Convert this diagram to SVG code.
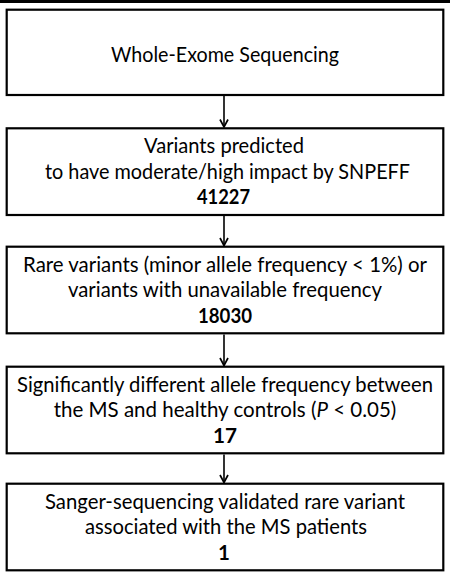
<svg xmlns="http://www.w3.org/2000/svg" width="450" height="577" viewBox="0 0 450 577">
<defs>
<style>
.box{fill:#fff;stroke:#000;stroke-width:2.2}
.t{font-family:Lato,"Liberation Sans",sans-serif;font-size:20.5px;fill:#000;text-anchor:middle}
.b{font-weight:bold}
.c{stroke:#000;stroke-width:1.6;fill:none}
</style>
<marker id="ah" markerWidth="10" markerHeight="10" refX="8.5" refY="5" orient="auto" markerUnits="userSpaceOnUse" viewBox="0 0 10 10">
<path d="M1,1 L8.5,5 L1,9" fill="none" stroke="#000" stroke-width="1.7"/>
</marker>
</defs>
<rect x="0" y="0" width="450" height="3" fill="#000"/>
<g id="connectors">
<line class="c" x1="224" y1="96" x2="224" y2="127" marker-end="url(#ah)"/>
<line class="c" x1="224" y1="216" x2="224" y2="245.5" marker-end="url(#ah)"/>
<line class="c" x1="224" y1="334.5" x2="224" y2="365.5" marker-end="url(#ah)"/>
<line class="c" x1="224" y1="454.5" x2="224" y2="482.5" marker-end="url(#ah)"/>
</g>
<g id="n1">
<rect class="box" x="6.7" y="9.7" width="436.6" height="85.3"/>
<text class="t" x="225" y="61.7" textLength="228" lengthAdjust="spacingAndGlyphs">Whole-Exome Sequencing</text>
</g>
<g id="n2">
<rect class="box" x="6.7" y="128.3" width="436.6" height="86.7"/>
<text class="t" x="224" y="153" textLength="160" lengthAdjust="spacingAndGlyphs">Variants predicted</text>
<text class="t" x="227.5" y="178.5" textLength="365" lengthAdjust="spacingAndGlyphs">to have moderate/high impact by SNPEFF</text>
<text class="t b" x="223.5" y="204" textLength="53" lengthAdjust="spacingAndGlyphs">41227</text>
</g>
<g id="n3">
<rect class="box" x="6.7" y="246.7" width="436.6" height="86.6"/>
<text class="t" x="225" y="271.5" textLength="404" lengthAdjust="spacingAndGlyphs">Rare variants (minor allele frequency &lt; 1%) or</text>
<text class="t" x="225" y="297" textLength="314" lengthAdjust="spacingAndGlyphs">variants with unavailable frequency</text>
<text class="t b" x="225" y="322.5" textLength="54" lengthAdjust="spacingAndGlyphs">18030</text>
</g>
<g id="n4">
<rect class="box" x="6.7" y="366.7" width="436.6" height="86.6"/>
<text class="t" x="225" y="391.5" textLength="416" lengthAdjust="spacingAndGlyphs">Significantly different allele frequency between</text>
<text class="t" x="225" y="417">the MS and healthy controls (<tspan font-style="italic">P</tspan> &lt; 0.05)</text>
<text class="t b" x="225" y="442.5" textLength="24" lengthAdjust="spacingAndGlyphs">17</text>
</g>
<g id="n5">
<rect class="box" x="6.7" y="483.7" width="436.6" height="86.6"/>
<text class="t" x="225" y="508.5" textLength="360" lengthAdjust="spacingAndGlyphs">Sanger-sequencing validated rare variant</text>
<text class="t" x="226" y="534" textLength="282" lengthAdjust="spacingAndGlyphs">associated with the MS patients</text>
<text class="t b" x="224" y="559.5">1</text>
</g>
</svg>
